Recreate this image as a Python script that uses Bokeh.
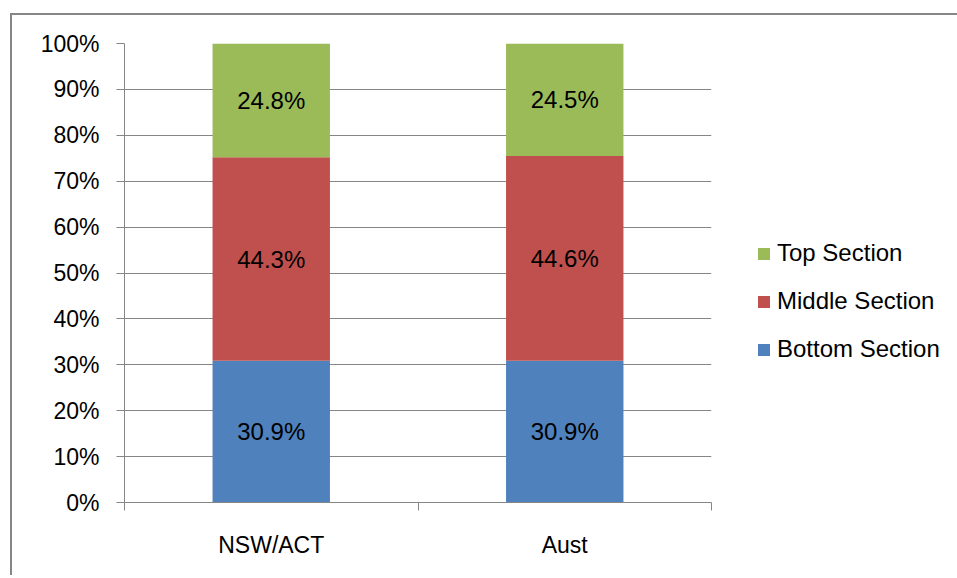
from bokeh.plotting import figure
from bokeh.models import (ColumnDataSource, Range1d, FixedTicker, NumeralTickFormatter,
                          Legend, LegendItem)
from bokeh.core.properties import value
from bokeh.embed import file_html
from bokeh.resources import INLINE

regions = ["NSW/ACT", "Aust"]
series = ["Bottom Section", "Middle Section", "Top Section"]
bottom_vals = [30.9, 30.9]
middle_vals = [44.3, 44.6]
top_vals = [24.8, 24.5]
colors = ["#4F81BD", "#C0504D", "#9BBB59"]
y_ticks = [0, 0.1, 0.2, 0.3, 0.4, 0.5, 0.6, 0.7, 0.8, 0.9, 1.0]

FONT = "Liberation Sans"
GRID = "#868686"

n = len(regions)
centers = [i + 0.5 for i in range(n)]
data = {"xpos": centers, "region": regions,
        "Bottom Section": [v / 100 for v in bottom_vals],
        "Middle Section": [v / 100 for v in middle_vals],
        "Top Section": [v / 100 for v in top_vals]}
src = ColumnDataSource(data)

p = figure(x_range=Range1d(0, n), y_range=Range1d(0, 1),
           frame_width=587, frame_height=459, output_backend="svg", toolbar_location=None,
           min_border_left=112, min_border_top=28,
           min_border_bottom=73, min_border_right=238)
p.styles = {"margin-left": "10px", "margin-top": "13px",
            "border-left": "2px solid #868686", "border-top": "2px solid #868686"}
p.outline_line_color = None
p.background_fill_color = "white"
p.border_fill_color = "white"

renderers = p.vbar_stack(series, x="xpos", width=0.4, source=src, color=colors,
                         line_color=None)

# segment labels
all_vals = [bottom_vals, middle_vals, top_vals]
lx, ly, lt = [], [], []
for i in range(n):
    base = 0.0
    for vals in all_vals:
        v = vals[i] / 100
        lx.append(centers[i])
        ly.append(base + v / 2)
        lt.append(f"{vals[i]:.1f}%")
        base += v
p.text(x=lx, y=ly, text=lt, text_align="center", text_baseline="middle",
       text_font=value(FONT), text_font_size="24px", text_color="black")

# y axis
ya = p.yaxis[0]
ya.ticker = FixedTicker(ticks=y_ticks, minor_ticks=[])
ya.formatter = NumeralTickFormatter(format="0%")
ya.major_label_text_font = FONT
ya.major_label_text_font_size = "23px"
ya.major_label_text_color = "black"
ya.axis_line_color = GRID
ya.major_tick_line_color = GRID
ya.major_tick_in = 0
ya.major_tick_out = 8
ya.minor_tick_line_color = None
ya.major_label_standoff = 17

p.ygrid.ticker = FixedTicker(ticks=y_ticks)
p.ygrid.grid_line_color = GRID
p.xgrid.grid_line_color = None

# x axis: labels at centres, tick marks at category boundaries
xa = p.xaxis[0]
xa.ticker = FixedTicker(ticks=centers, minor_ticks=list(range(n + 1)))
xa.major_label_overrides = {c: r for c, r in zip(centers, regions)}
xa.axis_line_color = GRID
xa.major_tick_line_color = None
xa.major_tick_in = 0
xa.major_tick_out = 8
xa.minor_tick_line_color = GRID
xa.minor_tick_in = 0
xa.minor_tick_out = 8
xa.major_label_text_font = FONT
xa.major_label_text_font_size = "23px"
xa.major_label_text_color = "black"
xa.major_label_standoff = 21

legend = Legend(items=[LegendItem(label=s, renderers=[r]) for s, r in
                       reversed(list(zip(series, renderers)))],
                location=(45, 139), orientation="vertical")
legend.label_text_font = FONT
legend.label_text_font_size = "24px"
legend.label_text_color = "black"
legend.glyph_width = 15
legend.glyph_height = 15
legend.label_height = 20
legend.label_standoff = 6
legend.spacing = 20
legend.padding = 0
legend.margin = 0
legend.border_line_color = None
legend.background_fill_alpha = 0
p.add_layout(legend, "right")

open("out.html", "w").write(file_html(p, INLINE))
